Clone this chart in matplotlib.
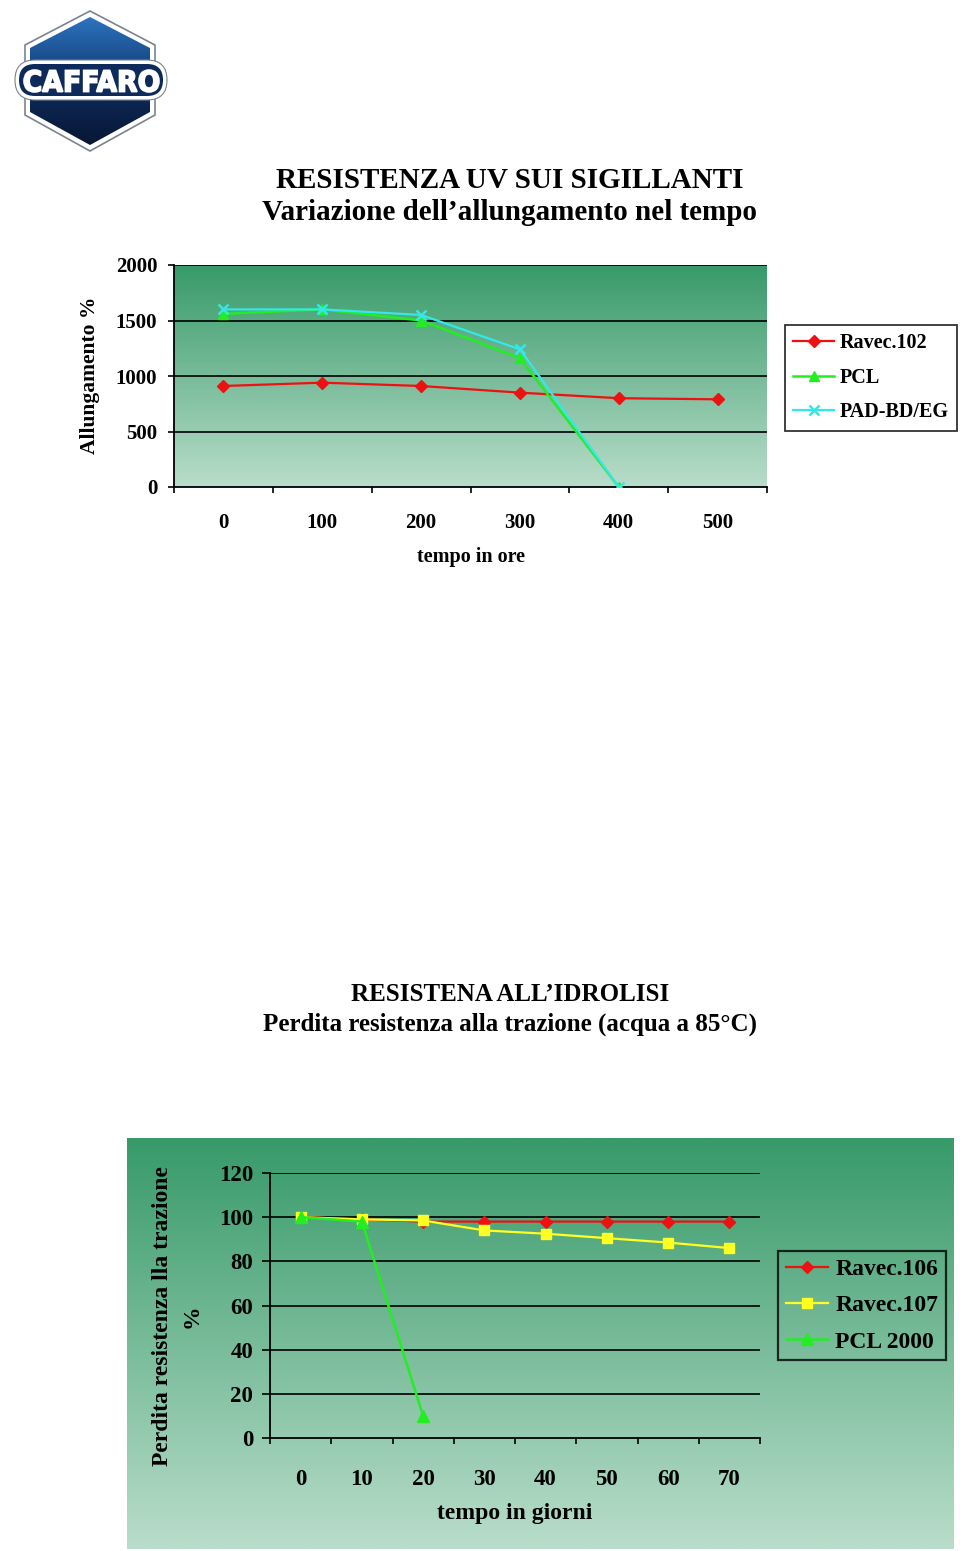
import numpy as np
import matplotlib
matplotlib.use("Agg")
import matplotlib.pyplot as plt
from matplotlib.colors import LinearSegmentedColormap
from matplotlib.patches import Polygon, FancyBboxPatch, PathPatch
from matplotlib.textpath import TextPath
from matplotlib.font_manager import FontProperties
from matplotlib.transforms import Affine2D

# ---------------- data ----------------
title1 = ["RESISTENZA UV SUI SIGILLANTI", "Variazione dell\u2019allungamento nel tempo"]
x1_labels = ["0", "100", "200", "300", "400", "500"]
ravec102 = [910, 940, 910, 850, 800, 790]
pcl = [1560, 1600, 1500, 1160, 0]
pad_bd_eg = [1600, 1600, 1550, 1240, 0]
y1_ticks = [0, 500, 1000, 1500, 2000]

title2 = ["RESISTENA ALL\u2019IDROLISI", "Perdita resistenza alla trazione (acqua a 85\u00b0C)"]
x2_labels = ["0", "10", "20", "30", "40", "50", "60", "70"]
ravec106 = [100, 99, 98, 98, 98, 98, 98, 98]
ravec107 = [100, 99, 98.5, 94, 92.5, 90.5, 88.5, 86]
pcl2000 = [100, 98, 10]
y2_ticks = [0, 20, 40, 60, 80, 100, 120]

# ---------------- setup ----------------
W, H = 960, 1551
plt.rcParams['font.family'] = ['Liberation Serif', 'DejaVu Serif']
plt.rcParams['font.weight'] = 'bold'
fig = plt.figure(figsize=(W / 100, H / 100), dpi=100)
fig.patch.set_facecolor('white')


def rect(x0, y0, x1, y1):
    return [x0 / W, 1 - y1 / H, (x1 - x0) / W, (y1 - y0) / H]


def fx(x):
    return x / W


def fy(y):
    return 1 - y / H


green_cmap = LinearSegmentedColormap.from_list('g', ['#379a69', '#b9ddca'])
grad = np.linspace(0, 1, 256).reshape(-1, 1)

# ---------------- logo ----------------
axl = fig.add_axes(rect(0, 0, 200, 160))
axl.set_xlim(0, 200)
axl.set_ylim(160, 0)
axl.axis('off')
hex_pts = [(90, 11), (155, 45), (155, 115), (90, 151), (25, 115), (25, 45)]
outer = Polygon(hex_pts, closed=True, facecolor='white', edgecolor='#7a848f', lw=1.2, zorder=1)
axl.add_patch(outer)
inner_pts = [(90, 17), (150, 48), (150, 112), (90, 145), (30, 112), (30, 48)]
inner = Polygon(inner_pts, closed=True, facecolor='none', edgecolor='none', zorder=2)
axl.add_patch(inner)
blue_cmap = LinearSegmentedColormap.from_list('b', ['#2f78c4', '#1a4e8e', '#0c2550', '#081530'])
im = axl.imshow(grad, cmap=blue_cmap, extent=(25, 155, 150, 12), aspect='auto', zorder=2)
im.set_clip_path(inner)
band_out = FancyBboxPatch((15, 60), 152, 40, boxstyle="round,pad=0,rounding_size=20",
                          facecolor='white', edgecolor='#7a848f', lw=0.8, zorder=3)
axl.add_patch(band_out)
band_in = FancyBboxPatch((19, 64), 144, 32, boxstyle="round,pad=0,rounding_size=16",
                         facecolor='#0d2a5a', edgecolor='none', zorder=4)
axl.add_patch(band_in)
tp = TextPath((0, 0), "CAFFARO", size=10, prop=FontProperties(family='DejaVu Sans', weight='heavy'))
bb = tp.get_extents()
tx0, tx1, ty0, ty1 = 24, 159, 70, 92
sx = (tx1 - tx0) / bb.width
sy = (ty1 - ty0) / bb.height
tr = Affine2D().translate(-bb.x0, -bb.y0).scale(sx, -sy).translate(tx0, ty1)
tpath = tr.transform_path(tp)
axl.add_patch(PathPatch(tpath, facecolor='white', edgecolor='white', lw=1.2, zorder=5))

# ---------------- chart 1 ----------------
fig.text(fx(510), fy(180), title1[0], ha='center', va='center', fontsize=21, fontweight='bold')
fig.text(fx(510), fy(213), title1[1], ha='center', va='center', fontsize=21, fontweight='bold')

ax1 = fig.add_axes(rect(174, 265, 767, 487))
ax1.set_xlim(-0.5, 5.5)
ax1.set_ylim(0, 2000)
ax1.imshow(grad, cmap=green_cmap, extent=(-0.5, 5.5, 0, 2000), aspect='auto', zorder=0)
for yv in y1_ticks[1:]:
    ax1.axhline(yv, color='black', lw=1.2, zorder=1)
x1 = np.arange(len(x1_labels))
l1a, = ax1.plot(x1, ravec102, color='#ee1111', lw=1.6, marker='D', ms=6.5, mec='#ee1111', zorder=3, label='Ravec.102')
l1b, = ax1.plot(x1[:len(pcl)], pcl, color='#22ee22', lw=1.8, marker='^', ms=7.5, mec='#22ee22', zorder=4, label='PCL')
l1c, = ax1.plot(x1[:len(pad_bd_eg)], pad_bd_eg, color='#33e8e8', lw=1.6, marker='x', ms=7.5, mew=1.8, zorder=5, label='PAD-BD/EG')
for s in ['top', 'right']:
    ax1.spines[s].set_visible(False)
for s in ['left', 'bottom']:
    ax1.spines[s].set_linewidth(1.3)
ax1.set_yticks(y1_ticks)
ax1.set_yticklabels([str(v) for v in y1_ticks], fontsize=15, fontweight='bold')
ax1.tick_params(axis='y', direction='out', length=4, width=1.2, pad=8)
ax1.set_xticks(x1)
ax1.set_xticklabels(x1_labels, fontsize=15, fontweight='bold')
ax1.set_xticks(np.arange(-0.5, 6.0, 1.0), minor=True)
ax1.tick_params(axis='x', which='major', length=0, pad=19)
ax1.tick_params(axis='x', which='minor', direction='out', length=4.5, width=1.2)
fig.text(fx(90), fy(375), "Allungamento %", rotation=90, ha='center', va='center', fontsize=15.5, fontweight='bold')
fig.text(fx(471), fy(557), "tempo in ore", ha='center', va='center', fontsize=14.5, fontweight='bold')

leg1 = fig.legend(handles=[l1a, l1b, l1c], loc='upper left', bbox_to_anchor=(fx(785), fy(325)),
                  bbox_transform=fig.transFigure, frameon=True, fancybox=False, fontsize=14.5,
                  handlelength=2.0, handletextpad=0.3, labelspacing=0.72, borderpad=0.42,
                  borderaxespad=0)
leg1.get_frame().set_edgecolor('black')
leg1.get_frame().set_linewidth(1.3)
leg1.get_frame().set_facecolor('white')
for t in leg1.get_texts():
    t.set_fontweight('bold')

# ---------------- chart 2 ----------------
fig.text(fx(510), fy(995), title2[0], ha='center', va='center', fontsize=18, fontweight='bold')
fig.text(fx(510), fy(1024), title2[1], ha='center', va='center', fontsize=18, fontweight='bold')

axbg = fig.add_axes(rect(127, 1138, 954, 1549))
axbg.imshow(grad, cmap=green_cmap, extent=(0, 1, 0, 1), aspect='auto')
axbg.set_xlim(0, 1)
axbg.set_ylim(0, 1)
axbg.axis('off')

ax2 = fig.add_axes(rect(270, 1173, 760, 1438))
ax2.patch.set_alpha(0)
ax2.set_xlim(-0.5, 7.5)
ax2.set_ylim(0, 120)
for yv in y2_ticks[1:]:
    ax2.axhline(yv, color='black', lw=1.2, zorder=1)
x2 = np.arange(len(x2_labels))
l2a, = ax2.plot(x2, ravec106, color='#ee1111', lw=1.6, marker='D', ms=6.5, mec='#ee1111', zorder=3, label='Ravec.106')
l2b, = ax2.plot(x2, ravec107, color='#ffff22', lw=1.6, marker='s', ms=7, mec='#ffff22', zorder=4, label='Ravec.107')
l2c, = ax2.plot(x2[:len(pcl2000)], pcl2000, color='#22ee22', lw=1.8, marker='^', ms=8, mec='#22ee22', zorder=5, label='PCL 2000')
for s in ['top', 'right']:
    ax2.spines[s].set_visible(False)
for s in ['left', 'bottom']:
    ax2.spines[s].set_linewidth(1.3)
ax2.set_yticks(y2_ticks)
ax2.set_yticklabels([str(v) for v in y2_ticks], fontsize=16.5, fontweight='bold')
ax2.tick_params(axis='y', direction='out', length=6, width=1.2, pad=6)
ax2.set_xticks(x2)
ax2.set_xticklabels(x2_labels, fontsize=16.5, fontweight='bold')
ax2.set_xticks(np.arange(-0.5, 8.0, 1.0), minor=True)
ax2.tick_params(axis='x', which='major', length=0, pad=22)
ax2.tick_params(axis='x', which='minor', direction='out', length=4.5, width=1.2)
fig.text(fx(162), fy(1316), "Perdita resistenza lla trazione", rotation=90, ha='center', va='center',
         fontsize=17, fontweight='bold')
fig.text(fx(192), fy(1316), "%", rotation=90, ha='center', va='center', fontsize=17, fontweight='bold')
fig.text(fx(515), fy(1513), "tempo in giorni", ha='center', va='center', fontsize=17, fontweight='bold')

leg2 = fig.legend(handles=[l2a, l2b, l2c], loc='upper left', bbox_to_anchor=(fx(778), fy(1251)),
                  bbox_transform=fig.transFigure, frameon=True, fancybox=False, fontsize=17,
                  handlelength=1.8, handletextpad=0.3, labelspacing=0.62, borderpad=0.33,
                  borderaxespad=0)
leg2.get_frame().set_edgecolor('black')
leg2.get_frame().set_linewidth(1.6)
leg2.get_frame().set_facecolor('none')
for t in leg2.get_texts():
    t.set_fontweight('bold')

fig.savefig("out.png", dpi=100)
